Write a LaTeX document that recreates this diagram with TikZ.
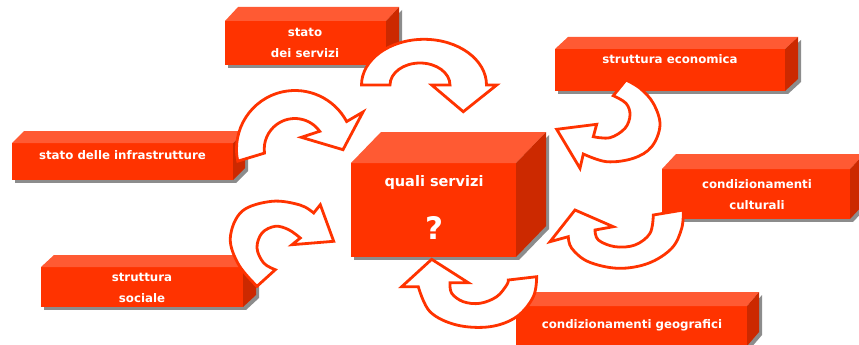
\documentclass[tikz,border=0pt]{standalone}
\usepackage{fontspec}
\setmainfont{DejaVu Sans}
\usetikzlibrary{calc}
\definecolor{boxfront}{HTML}{FF3300}
\definecolor{boxtop}{HTML}{FF5A33}
\definecolor{boxside}{HTML}{CC2900}
\definecolor{boxshade}{HTML}{8C8C8C}
\definecolor{arrowline}{HTML}{FF3300}
\tikzset{
  frontface/.style={rectangle, fill=boxfront, draw=none, inner sep=0pt, outer sep=0pt},
  topface/.style={fill=boxtop},
  sideface/.style={fill=boxside},
  shadeface/.style={fill=boxshade},
  boxtext/.style={text=white, font=\fontsize{11.8}{21}\selectfont\bfseries, align=center, inner sep=0pt},
  centertext/.style={text=white, font=\fontsize{14.5}{18}\selectfont\bfseries, align=center, inner sep=0pt},
  questtext/.style={text=white, font=\fontsize{31}{34}\selectfont\bfseries, inner sep=0pt},
  bentarrow/.style={draw=arrowline, fill=white, line width=2.8pt, line join=miter},
}
% name, x1, y1, x2, y2, depth x, depth y
\newcommand\cuboid[7]{%
  \fill[shadeface] (#2+3,#3+3) rectangle (#4+3,#5+3);
  \fill[shadeface] (#4+3,#3+3) -- (#4+#6+3,#3-#7+3) -- (#4+#6+3,#5-#7+3) -- (#4+3,#5+3) -- cycle;
  \node[frontface, minimum width=#4-#2, minimum height=#5-#3, anchor=north west] (#1) at (#2,#3) {};
  \fill[topface] (#1.north west) -- ++(#6,-#7) -- ($(#1.north east)+(#6,-#7)$) -- (#1.north east) -- cycle;
  \fill[sideface] (#1.north east) -- ++(#6,-#7) -- ($(#1.south east)+(#6,-#7)$) -- (#1.south east) -- cycle;
}
\begin{document}
\begin{tikzpicture}[x=1pt,y=-1pt]
\useasboundingbox (0,0) rectangle (859,345);

% boxes
\cuboid{servizi}{225}{21}{386}{65}{13}{14}
\cuboid{infra}{12}{143}{233}{180}{12}{12}
\cuboid{sociale}{41}{267}{243}{307}{13}{12}
\cuboid{centre}{351}{163}{516}{257}{30}{31}
\cuboid{economica}{555}{49}{785}{91}{13}{12}
\cuboid{culturali}{662}{169}{850}{219}{14}{15}
\cuboid{geografici}{516}{306}{747}{346}{12}{14}

% texts
\node[boxtext] (t1) at (305,42.5) {stato\\dei servizi};
\node[boxtext] (t2) at (122.5,155) {stato delle infrastrutture};
\node[boxtext] (t3) at (142,288) {struttura\\sociale};
\node[centertext] (t4) at (434,182) {quali servizi};
\node[questtext] (t5) at (434,228) {?};
\node[boxtext] (t6) at (670,59) {struttura economica};
\node[boxtext] (t7) at (757,194.5) {condizionamenti\\culturali};
\node[boxtext] (t8) at (632,325) {condizionamenti geografici};

% curved arrows
% A: from "stato dei servizi" to centre
\draw[bentarrow] (424,85) ++(180:62.5 and 45.7)
  arc[start angle=180, end angle=360, x radius=62.5, y radius=45.7]
  -- (496.7,85) -- (463.3,111.7) -- (431.7,85) -- (450,85)
  arc[start angle=0, end angle=-180, x radius=30, y radius=22] -- cycle;

% B: from "stato delle infrastrutture"
\draw[bentarrow] (295,149) ++(168:58.5)
  arc[start angle=168, end angle=332, radius=58.5]
  -- (363,112) -- (343,149.7) -- (301.3,137.3) -- (319.7,131.3)
  arc[start angle=-35.6, end angle=-187.5, radius=30.6] -- cycle;

% C: from "struttura sociale"
\draw[bentarrow] plot[smooth, tension=0.6] coordinates {(257,286.3) (238.7,264.7) (230.3,238) (242,211.3) (272,201.3) (300,205) (313.7,213)}
  -- (320.3,204.7) -- (333.7,241.3) -- (292,244.7) -- (300.3,238)
  -- plot[smooth, tension=0.6] coordinates {(300.3,238) (288.7,229.7) (275.3,226.3) (262,233) (257,248) (263.7,263) (275.3,269.7)} -- cycle;

% D: from "struttura economica"
\draw[bentarrow] plot[smooth, tension=0.6] coordinates {(626,80) (640,88.3) (653.3,103.3) (660,125) (651.7,146.7) (633.3,158.3) (606.7,161.7) (583.3,154)}
  -- (580,168.3) -- (556.7,129.3) -- (596.7,124.3) -- (593.3,136.7)
  -- plot[smooth, tension=0.6] coordinates {(593.3,136.7) (610,137.7) (625,128.3) (630,115) (626,103.3) (613.3,95.7)} -- cycle;

% E: from "condizionamenti culturali"
\draw[bentarrow] plot[smooth, tension=0.6] coordinates {(683.3,210) (681.7,228.3) (671.7,248.3) (648.3,263.3) (618.3,268.3) (588.3,261.7) (571.7,248.3) (568.3,236.7)}
  -- (550,241.7) -- (575,210) -- (613.3,226.7) -- (595,230)
  -- plot[smooth, tension=0.6] coordinates {(595,230) (598.3,240) (615,246.7) (635,245) (650,233.3) (653.3,215)} -- cycle;

% F: from "condizionamenti geografici"
\draw[bentarrow] plot[smooth, tension=0.6] coordinates {(536.7,276.7) (533.3,296.7) (516.7,316.7) (490,326.7) (456.7,325) (430,311.7) (418.3,286.7)}
  -- (401.7,286.7) -- (431.7,259.3) -- (468.3,282.7) -- (450,282.7)
  -- plot[smooth, tension=0.6] coordinates {(450,282.7) (451.7,293.3) (463.3,301.7) (480,303.3) (496.7,296.7) (506.7,285) (508.3,280)} -- cycle;
\end{tikzpicture}
\end{document}
